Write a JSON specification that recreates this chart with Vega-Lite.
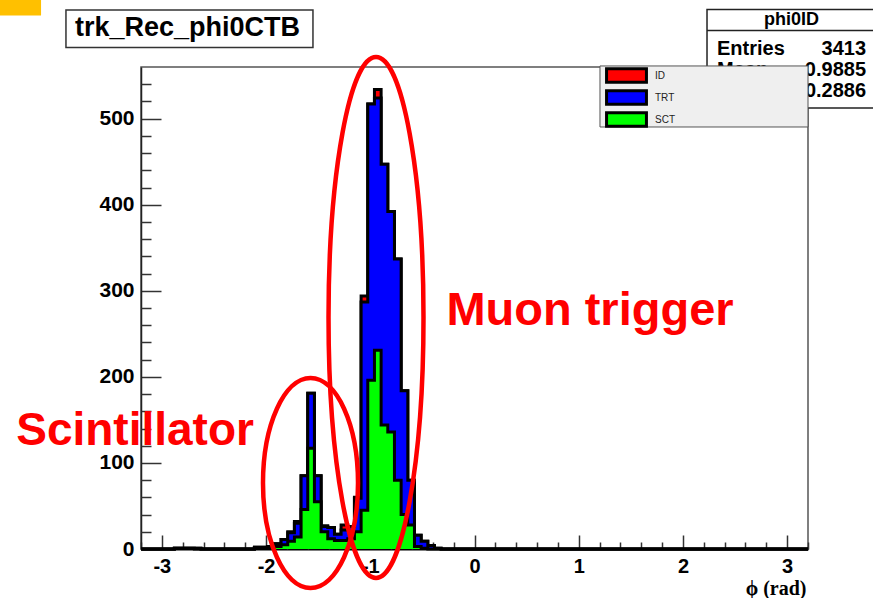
{
  "$schema": "https://vega.github.io/schema/vega-lite/v6.json",
  "width": 667,
  "height": 482,
  "autosize": {"type": "none"},
  "padding": {"left": 141, "top": 67, "right": 65, "bottom": 49},
  "background": "white",
  "config": {
    "view": {"stroke": "#555555", "strokeWidth": 1.5},
    "font": "Liberation Sans"
  },
  "resolve": {"axis": {"x": "independent", "y": "independent"}},
  "datasets": {
    "hist": [
      {"phi": -3.2, "ID": 0, "TRT": 0, "SCT": 0},
      {"phi": -3.136, "ID": 0, "TRT": 0, "SCT": 0},
      {"phi": -3.072, "ID": 0, "TRT": 0, "SCT": 0},
      {"phi": -3.008, "ID": 0, "TRT": 0, "SCT": 0},
      {"phi": -2.944, "ID": 0, "TRT": 0, "SCT": 0},
      {"phi": -2.88, "ID": 1, "TRT": 1, "SCT": 1},
      {"phi": -2.816, "ID": 1, "TRT": 1, "SCT": 1},
      {"phi": -2.752, "ID": 1, "TRT": 1, "SCT": 1},
      {"phi": -2.688, "ID": 1, "TRT": 1, "SCT": 0},
      {"phi": -2.624, "ID": 0, "TRT": 0, "SCT": 0},
      {"phi": -2.56, "ID": 0, "TRT": 0, "SCT": 0},
      {"phi": -2.496, "ID": 0, "TRT": 0, "SCT": 0},
      {"phi": -2.432, "ID": 0, "TRT": 0, "SCT": 0},
      {"phi": -2.368, "ID": 0, "TRT": 0, "SCT": 0},
      {"phi": -2.304, "ID": 0, "TRT": 0, "SCT": 0},
      {"phi": -2.24, "ID": 0, "TRT": 0, "SCT": 0},
      {"phi": -2.176, "ID": 0, "TRT": 0, "SCT": 0},
      {"phi": -2.112, "ID": 2, "TRT": 2, "SCT": 1},
      {"phi": -2.048, "ID": 2, "TRT": 2, "SCT": 1},
      {"phi": -1.984, "ID": 3, "TRT": 3, "SCT": 1},
      {"phi": -1.92, "ID": 6, "TRT": 6, "SCT": 3},
      {"phi": -1.856, "ID": 11, "TRT": 11, "SCT": 5},
      {"phi": -1.792, "ID": 20, "TRT": 19, "SCT": 9},
      {"phi": -1.728, "ID": 32, "TRT": 30, "SCT": 14},
      {"phi": -1.664, "ID": 85, "TRT": 85, "SCT": 46},
      {"phi": -1.6, "ID": 181, "TRT": 181, "SCT": 117},
      {"phi": -1.536, "ID": 85, "TRT": 85, "SCT": 55},
      {"phi": -1.472, "ID": 27, "TRT": 26, "SCT": 20},
      {"phi": -1.408, "ID": 25, "TRT": 25, "SCT": 12},
      {"phi": -1.344, "ID": 17, "TRT": 17, "SCT": 10},
      {"phi": -1.28, "ID": 28, "TRT": 22, "SCT": 10},
      {"phi": -1.216, "ID": 26, "TRT": 26, "SCT": 12},
      {"phi": -1.152, "ID": 60, "TRT": 59, "SCT": 20},
      {"phi": -1.088, "ID": 294, "TRT": 287, "SCT": 45},
      {"phi": -1.024, "ID": 517, "TRT": 517, "SCT": 196},
      {"phi": -0.96, "ID": 534, "TRT": 524, "SCT": 231},
      {"phi": -0.896, "ID": 447, "TRT": 447, "SCT": 144},
      {"phi": -0.832, "ID": 392, "TRT": 392, "SCT": 136},
      {"phi": -0.768, "ID": 337, "TRT": 337, "SCT": 80},
      {"phi": -0.704, "ID": 184, "TRT": 184, "SCT": 40},
      {"phi": -0.64, "ID": 80, "TRT": 80, "SCT": 28},
      {"phi": -0.576, "ID": 16, "TRT": 16, "SCT": 3},
      {"phi": -0.512, "ID": 9, "TRT": 9, "SCT": 1},
      {"phi": -0.448, "ID": 4, "TRT": 4, "SCT": 0},
      {"phi": -0.384, "ID": 1, "TRT": 1, "SCT": 0},
      {"phi": -0.32, "ID": 0, "TRT": 0, "SCT": 0},
      {"phi": 3.2, "ID": 0, "TRT": 0, "SCT": 0}
    ]
  },
  "layer": [
    {
      "data": {"name": "hist"},
      "transform": [
        {"fold": ["ID", "TRT", "SCT"], "as": ["series", "count"]},
        {"filter": "datum.series === 'ID'"}
      ],
      "mark": {"type": "area", "interpolate": "step-after", "opacity": 1},
      "encoding": {
        "x": {
          "field": "phi", "type": "quantitative",
          "scale": {"domain": [-3.2, 3.2], "nice": false, "zero": false},
          "axis": {
            "orient": "bottom",
            "values": [-3, -2, -1, 0, 1, 2, 3],
            "labelExpr": "'' + round(datum.value)",
            "tickSize": -14, "tickColor": "#333333", "tickWidth": 1.5,
            "domainColor": "#000000", "domainWidth": 2,
            "labelFont": "Liberation Sans", "labelFontSize": 20, "labelFontWeight": "bold", "labelColor": "#000000",
            "labelPadding": 21, "labelFlush": false, "labelOverlap": false, "grid": false,
            "title": "ϕ (rad)", "titleFont": "Liberation Serif, DejaVu Serif", "titleFontSize": 20, "titleFontWeight": "bold",
            "titleColor": "#000000", "titleAlign": "right", "titleAnchor": "end", "titleX": 665, "titleY": 45, "titleBaseline": "alphabetic"
          }
        },
        "y": {
          "field": "count", "type": "quantitative", "stack": null,
          "scale": {"domain": [0, 560], "nice": false},
          "axis": {
            "orient": "left",
            "values": [0, 100, 200, 300, 400, 500],
            "labelExpr": "'' + datum.value",
            "tickSize": -20, "tickColor": "#333333", "tickWidth": 1.5,
            "domainColor": "#222222", "domainWidth": 1.5,
            "labelFont": "Liberation Sans", "labelFontSize": 21, "labelFontWeight": "bold", "labelColor": "#000000",
            "labelPadding": 27, "labelFlush": false, "labelOverlap": false, "grid": false,
            "title": null
          }
        },
        "color": {
          "field": "series", "type": "nominal",
          "scale": {"domain": ["ID", "TRT", "SCT"], "range": ["#ff0000", "#0000ff", "#00ff00"]},
          "legend": {
            "orient": "none", "legendX": 477, "legendY": 0, "title": null,
            "symbolType": "M -2.85 -0.95 H 2.85 V 0.95 H -2.85 Z",
            "symbolSize": 196, "symbolStrokeColor": "#000000", "symbolStrokeWidth": 3, "symbolOpacity": 1,
            "labelFont": "Liberation Sans", "labelFontSize": 10, "labelColor": "#222222",
            "labelOffset": 20, "rowPadding": -9.5, "padding": 0
          }
        }
      }
    },
    {
      "data": {"name": "hist"},
      "transform": [
        {"fold": ["ID", "TRT", "SCT"], "as": ["series", "count"]},
        {"filter": "datum.series === 'ID'"}
      ],
      "mark": {"type": "line", "interpolate": "step-after", "color": "#000000", "strokeWidth": 3},
      "encoding": {
        "x": {
          "field": "phi", "type": "quantitative",
          "axis": {
            "orient": "bottom",
            "values": [-3.2, -2.8, -2.6, -2.4, -2.2, -1.8, -1.6, -1.4, -1.2, -0.8, -0.6, -0.4, -0.2, 0.2, 0.4, 0.6, 0.8, 1.2, 1.4, 1.6, 1.8, 2.2, 2.4, 2.6, 2.8, 3.2],
            "tickSize": -7, "tickColor": "#333333", "tickWidth": 1.5,
            "labels": false, "domain": false, "grid": false, "title": null
          }
        },
        "y": {
          "field": "count", "type": "quantitative", "stack": null,
          "axis": {
            "orient": "left",
            "values": [20, 40, 60, 80, 120, 140, 160, 180, 220, 240, 260, 280, 320, 340, 360, 380, 420, 440, 460, 480, 520, 540],
            "tickSize": -10, "tickColor": "#333333", "tickWidth": 1.5,
            "labels": false, "domain": false, "grid": false, "title": null
          }
        }
      }
    },
    {
      "data": {"name": "hist"},
      "transform": [
        {"fold": ["ID", "TRT", "SCT"], "as": ["series", "count"]},
        {"filter": "datum.series === 'TRT'"}
      ],
      "mark": {"type": "area", "interpolate": "step-after", "opacity": 1},
      "encoding": {
        "x": {"field": "phi", "type": "quantitative", "axis": null},
        "y": {"field": "count", "type": "quantitative", "stack": null, "axis": null},
        "color": {"field": "series", "type": "nominal", "legend": null}
      }
    },
    {
      "data": {"name": "hist"},
      "transform": [
        {"fold": ["ID", "TRT", "SCT"], "as": ["series", "count"]},
        {"filter": "datum.series === 'TRT'"}
      ],
      "mark": {"type": "line", "interpolate": "step-after", "color": "#000000", "strokeWidth": 3},
      "encoding": {
        "x": {"field": "phi", "type": "quantitative", "axis": null},
        "y": {"field": "count", "type": "quantitative", "stack": null, "axis": null}
      }
    },
    {
      "data": {"name": "hist"},
      "transform": [
        {"fold": ["ID", "TRT", "SCT"], "as": ["series", "count"]},
        {"filter": "datum.series === 'SCT'"}
      ],
      "mark": {"type": "area", "interpolate": "step-after", "opacity": 1},
      "encoding": {
        "x": {"field": "phi", "type": "quantitative", "axis": null},
        "y": {"field": "count", "type": "quantitative", "stack": null, "axis": null},
        "color": {"field": "series", "type": "nominal", "legend": null}
      }
    },
    {
      "data": {"name": "hist"},
      "transform": [
        {"fold": ["ID", "TRT", "SCT"], "as": ["series", "count"]},
        {"filter": "datum.series === 'SCT'"}
      ],
      "mark": {"type": "line", "interpolate": "step-after", "color": "#000000", "strokeWidth": 3},
      "encoding": {
        "x": {"field": "phi", "type": "quantitative", "axis": null},
        "y": {"field": "count", "type": "quantitative", "stack": null, "axis": null}
      }
    },
    {
      "data": {"values": [{}]},
      "mark": {"type": "rect", "fill": "#ffffff", "stroke": "#222222", "strokeWidth": 1.5, "clip": false},
      "encoding": {
        "x": {"datum": 2.231, "type": "quantitative", "axis": null},
        "x2": {"datum": 3.843},
        "y": {"datum": 626.8, "type": "quantitative", "axis": null},
        "y2": {"datum": 512.4}
      }
    },
    {
      "data": {"values": [{}]},
      "mark": {"type": "rule", "stroke": "#222222", "strokeWidth": 1.5, "clip": false},
      "encoding": {
        "x": {"datum": 2.231, "type": "quantitative", "axis": null},
        "x2": {"datum": 3.843},
        "y": {"datum": 602.4, "type": "quantitative", "axis": null}
      }
    },
    {
      "data": {"values": [{}]},
      "mark": {"type": "text", "text": "phi0ID", "font": "Liberation Sans", "fontSize": 18, "fontWeight": "bold", "color": "#000000", "align": "center", "baseline": "alphabetic"},
      "encoding": {
        "x": {"datum": 3.042, "type": "quantitative", "axis": null},
        "y": {"datum": 608.8, "type": "quantitative", "axis": null}
      }
    },
    {
      "data": {"values": [{}]},
      "mark": {"type": "text", "text": ["Entries", "Mean", "RMS"], "lineHeight": 21, "font": "Liberation Sans", "fontSize": 20, "fontWeight": "bold", "color": "#000000", "align": "left", "baseline": "alphabetic"},
      "encoding": {
        "x": {"datum": 2.327, "type": "quantitative", "axis": null},
        "y": {"datum": 574.0, "type": "quantitative", "axis": null}
      }
    },
    {
      "data": {"values": [{}]},
      "mark": {"type": "text", "text": ["3413", "-0.9885", "0.2886"], "lineHeight": 21, "font": "Liberation Sans", "fontSize": 20, "fontWeight": "bold", "color": "#000000", "align": "right", "baseline": "alphabetic"},
      "encoding": {
        "x": {"datum": 3.757, "type": "quantitative", "axis": null},
        "y": {"datum": 574.0, "type": "quantitative", "axis": null}
      }
    },
    {
      "data": {"values": [{}]},
      "mark": {"type": "rect", "fill": "#efefef", "stroke": "#555555", "strokeWidth": 1, "clip": false},
      "encoding": {
        "x": {"datum": 1.204, "type": "quantitative", "axis": null},
        "x2": {"datum": 3.2},
        "y": {"datum": 561.2, "type": "quantitative", "axis": null},
        "y2": {"datum": 490.3}
      }
    },
    {
      "data": {"values": [{}]},
      "mark": {"type": "rect", "fill": "#ffffff", "stroke": "#333333", "strokeWidth": 1.5, "clip": false},
      "encoding": {
        "x": {"datum": -3.92, "type": "quantitative", "axis": null},
        "x2": {"datum": -1.55},
        "y": {"datum": 626.2, "type": "quantitative", "axis": null},
        "y2": {"datum": 582.7}
      }
    },
    {
      "data": {"values": [{}]},
      "mark": {"type": "text", "text": "trk_Rec_phi0CTB", "font": "Liberation Sans", "fontSize": 27, "fontWeight": "bold", "color": "#000000", "align": "left", "baseline": "alphabetic"},
      "encoding": {
        "x": {"datum": -3.833, "type": "quantitative", "axis": null},
        "y": {"datum": 596.0, "type": "quantitative", "axis": null}
      }
    },
    {
      "data": {"values": [{}]},
      "mark": {"type": "rect", "fill": "#ffc000", "clip": false},
      "encoding": {
        "x": {"datum": -4.6, "type": "quantitative", "axis": null},
        "x2": {"datum": -4.159},
        "y": {"datum": 640, "type": "quantitative", "axis": null},
        "y2": {"datum": 619.8}
      }
    },
    {
      "data": {"values": [{}]},
      "mark": {"type": "point", "shape": "M 0 -1 C 0.1007 -1 0.1823 -0.5523 0.1823 0 C 0.1823 0.5523 0.1007 1 0 1 C -0.1007 1 -0.1823 0.5523 -0.1823 0 C -0.1823 -0.5523 -0.1007 -1 0 -1 Z", "size": 271441, "filled": false, "stroke": "#ff0000", "strokeWidth": 4.5, "opacity": 1},
      "encoding": {
        "x": {"datum": -0.945, "type": "quantitative", "axis": null},
        "y": {"datum": 269.0, "type": "quantitative", "axis": null}
      }
    },
    {
      "data": {"values": [{}]},
      "mark": {"type": "point", "shape": "M 0 -1 C 0.2499 -1 0.4524 -0.5523 0.4524 0 C 0.4524 0.5523 0.2499 1 0 1 C -0.2499 1 -0.4524 0.5523 -0.4524 0 C -0.4524 -0.5523 -0.2499 -1 0 -1 Z", "size": 44100, "filled": false, "stroke": "#ff0000", "strokeWidth": 4.5, "opacity": 1},
      "encoding": {
        "x": {"datum": -1.5736, "type": "quantitative", "axis": null},
        "y": {"datum": 76.7, "type": "quantitative", "axis": null}
      }
    },
    {
      "data": {"values": [{}]},
      "mark": {"type": "text", "text": "Muon trigger", "font": "Liberation Sans", "fontSize": 47, "fontWeight": "bold", "color": "#ff0000", "align": "center", "baseline": "alphabetic"},
      "encoding": {
        "x": {"datum": 1.108, "type": "quantitative", "axis": null},
        "y": {"datum": 260.2, "type": "quantitative", "axis": null}
      }
    },
    {
      "data": {"values": [{}]},
      "mark": {"type": "text", "text": "Scintillator", "font": "Liberation Sans", "fontSize": 46, "fontWeight": "bold", "color": "#ff0000", "align": "center", "baseline": "alphabetic"},
      "encoding": {
        "x": {"datum": -3.257, "type": "quantitative", "axis": null},
        "y": {"datum": 120.8, "type": "quantitative", "axis": null}
      }
    }
  ]
}
